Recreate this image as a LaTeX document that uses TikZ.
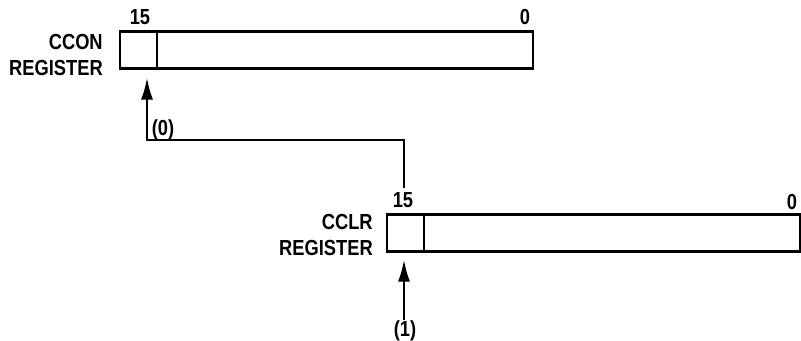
\documentclass[tikz,border=0pt]{standalone}
\usepackage{fontspec}
\setmainfont{Liberation Sans}
\newfontfamily\regfont[FakeStretch=0.84]{Liberation Sans}
\usetikzlibrary{arrows.meta,positioning}

\begin{document}
\begin{tikzpicture}[x=0.25mm, y=-0.25mm]
  \tikzstyle{bitcell} = [rectangle, draw, line width=1.8pt, inner sep=0pt, outer sep=0pt, minimum width=9.25mm, minimum height=9.25mm]
  \tikzstyle{field} = [rectangle, draw, line width=1.8pt, inner sep=0pt, outer sep=0pt, minimum width=94mm, minimum height=9.25mm]
  \tikzstyle{lbl} = [font=\regfont\fontsize{15.5}{18.5}\selectfont\bfseries, inner sep=0pt, align=right]
  \tikzstyle{arrow} = [line width=1.8pt, -{Latex[length=5.5mm, width=3mm]}]

  \useasboundingbox (0,0) rectangle (801,341);

  % CCON register
  \node [bitcell] (cconbit) at (138.5,50) {};
  \node [field, anchor=west] (cconrest) at (cconbit.east) {};
  \node [lbl, anchor=east] (cconname) at (103,54.5) {CCON\\REGISTER};
  \node [lbl] (ccon15) at (140,17) {15};
  \node [lbl] (ccon0) at (525,17) {0};

  % CCLR register
  \node [bitcell] (cclrbit) at (405.5,233) {};
  \node [field, anchor=west] (cclrrest) at (cclrbit.east) {};
  \node [lbl, anchor=east] (cclrname) at (373,234.5) {CCLR\\REGISTER};
  \node [lbl] (cclr15) at (403,200) {15};
  \node [lbl] (cclr0) at (792,202) {0};

  % Arrows
  \coordinate (bend) at (147,140);
  \coordinate (top15) at (404,188);
  \coordinate (in1) at (404,320);
  \node [lbl] (zero) at (163,130) {(0)};
  \node [lbl] (one) at (405,331) {(1)};
  \draw [arrow] (top15) |- (bend) -- ([yshift=-2.25mm]bend |- cconbit.south);
  \draw [arrow] (in1) -- ([yshift=-2mm]in1 |- cclrbit.south);

\end{tikzpicture}
\end{document}
